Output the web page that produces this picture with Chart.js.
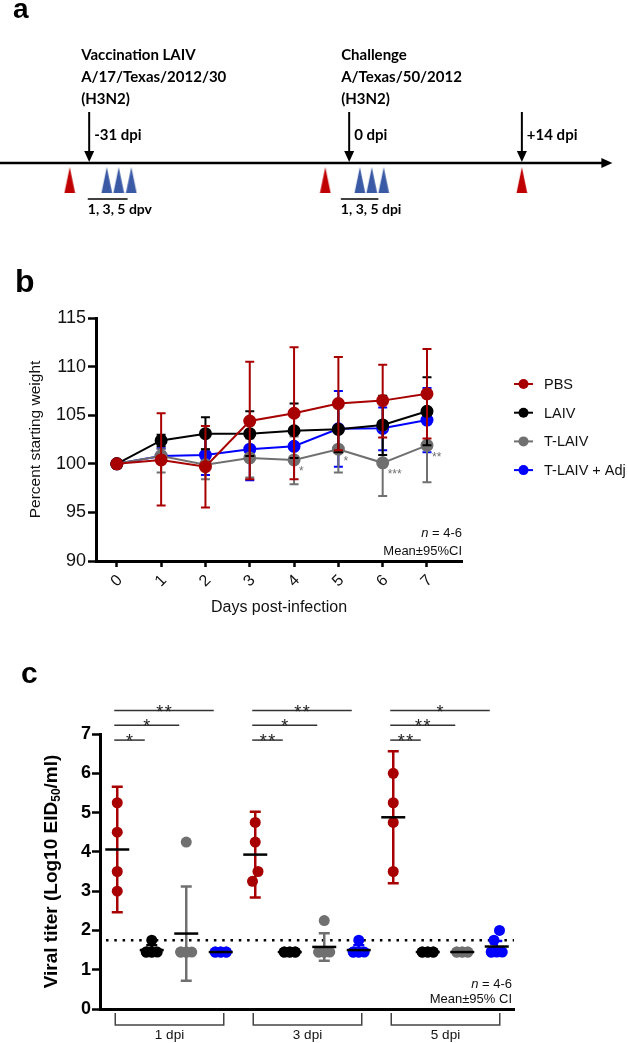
<!DOCTYPE html>
<html><head><meta charset="utf-8">
<script src="https://cdn.jsdelivr.net/npm/chart.js@4.4.0/dist/chart.umd.min.js"></script>
<style>
html,body{margin:0;padding:0;background:#fff;}
body{width:628px;height:1043px;position:relative;overflow:hidden;}
canvas{position:absolute;left:0;}
</style></head><body>
<canvas id="ca" width="628" height="232" style="top:0px"></canvas>
<canvas id="cb" width="628" height="370" style="top:260px"></canvas>
<canvas id="cc" width="628" height="403" style="top:640px"></canvas>
<script>
// ---------- Panel a: timeline (schematic units 0..100) ----------
const timelineEnd = 96.4;
const samplingPos = [11.1, 51.8, 83.1];
const vaccSwabPos = [17.0, 18.9, 20.9];
const challSwabPos = [57.3, 59.2, 61.1];
const eventPos = [14.2, 55.6, 83.1];
const eventLabels = ['-31 dpi', '0 dpi', '+14 dpi'];
const eventTitles = [['Vaccination LAIV', 'A/17/Texas/2012/30', '(H3N2)'], ['Challenge', 'A/Texas/50/2012', '(H3N2)'], []];
const swabLabels = ['1, 3, 5 dpv', '1, 3, 5 dpi'];
const markY = -0.62;

// ---------- Panel b: weight ----------
const days = [0, 1, 2, 3, 4, 5, 6, 7];
const seriesNames = ['PBS', 'LAIV', 'T-LAIV', 'T-LAIV + Adj'];
const seriesColors = ['#a80000', '#000000', '#707070', '#0000ff'];
const pbsWeight   = [100, 100.4, 99.7, 104.4, 105.2, 106.2, 106.5, 107.2];
const pbsWeightHi = [100, 105.2, 103.9, 110.5, 112.0, 111.0, 110.2, 111.8];
const pbsWeightLo = [100, 95.7, 95.5, 98.4, 98.4, 101.4, 102.7, 102.6];
const laivWeight   = [100, 102.4, 103.1, 103.1, 103.4, 103.55, 104.0, 105.4];
const laivWeightHi = [100, 103.0, 104.8, 105.4, 106.2, 105.9, 107.0, 108.9];
const laivWeightLo = [100, 101.8, 101.5, 100.8, 100.6, 101.2, 100.9, 101.9];
const tlaivWeight   = [100, 100.8, 99.9, 100.6, 100.4, 101.5, 100.1, 101.9];
const tlaivWeightHi = [100, 101.5, 101.5, 102.6, 102.8, 103.9, 103.5, 105.7];
const tlaivWeightLo = [100, 99.1, 98.4, 98.6, 97.9, 99.1, 96.7, 98.1];
const adjWeight   = [100, 100.8, 100.9, 101.5, 101.8, 103.6, 103.65, 104.5];
const adjWeightHi = [100, 101.6, 102.9, 104.7, 103.2, 107.5, 105.8, 107.8];
const adjWeightLo = [100, 100.05, 98.85, 98.3, 100.4, 99.7, 101.4, 101.2];
const weightTicks = [90, 95, 100, 105, 110, 115];
const sigDays = [4, 5, 6, 7];
const sigMarks = ['*', '*', '***', '**'];

// ---------- Panel c: viral titer ----------
const dpiGroups = ['1 dpi', '3 dpi', '5 dpi'];
const pbsTiter   = [[5.25, 4.5, 3.5, 3.0], [4.75, 4.25, 3.5, 3.25], [6.0, 5.25, 4.75, 3.5]];
const laivTiter  = [[1.75, 1.45, 1.45, 1.45, 1.45, 1.45], [1.45, 1.45, 1.45, 1.45, 1.45, 1.45], [1.45, 1.45, 1.45, 1.45, 1.45, 1.45]];
const tlaivTiter = [[4.25, 1.45, 1.45, 1.45, 1.45, 1.45], [2.25, 1.45, 1.45, 1.45, 1.45, 1.45], [1.45, 1.45, 1.45, 1.45, 1.45, 1.45]];
const adjTiter   = [[1.45, 1.45, 1.45, 1.45, 1.45, 1.45], [1.75, 1.45, 1.45, 1.45, 1.45, 1.45], [2.0, 1.75, 1.45, 1.45, 1.45, 1.45]];
const pbsTiterMean = [4.06, 3.93, 4.88], pbsTiterLo = [2.46, 2.84, 3.2], pbsTiterHi = [5.66, 5.02, 6.56];
const laivTiterMean = [1.5, 1.45, 1.45], laivTiterLo = [1.38, 1.45, 1.45], laivTiterHi = [1.62, 1.45, 1.45];
const tlaivTiterMean = [1.92, 1.58, 1.45], tlaivTiterLo = [0.72, 1.23, 1.45], tlaivTiterHi = [3.12, 1.93, 1.45];
const adjTiterMean = [1.45, 1.5, 1.59], adjTiterLo = [1.45, 1.4, 1.45], adjTiterHi = [1.45, 1.62, 1.73];
const detectionLimit = 1.75;
const titerTicks = [0, 1, 2, 3, 4, 5, 6, 7];
// significance bars: [fromSeries, toSeries, label] per group, top to bottom
const sigBars = [
  [[0, 3, '**'], [0, 2, '*'], [0, 1, '*']],
  [[0, 3, '**'], [0, 2, '*'], [0, 1, '**']],
  [[0, 3, '*'], [0, 2, '**'], [0, 1, '**']]
];

const FONT = "'Liberation Sans', Arial, Helvetica, sans-serif";
Chart.defaults.font.family = FONT;
Chart.defaults.color = '#000';
Chart.defaults.animation = false;
Chart.defaults.responsive = false;
Chart.defaults.events = [];
Chart.defaults.layout.autoPadding = false;
Chart.defaults.plugins.legend.display = false;
Chart.defaults.plugins.tooltip.enabled = false;

// ================= Panel a =================
function triImg(color) {
  const c = document.createElement('canvas'); c.width = 12; c.height = 29;
  const g = c.getContext('2d'); g.fillStyle = color;
  g.beginPath(); g.moveTo(6, 0); g.lineTo(12, 29); g.lineTo(0, 29); g.closePath(); g.fill();
  return c;
}
const timelinePlugin = {
  id: 'timeline',
  afterDraw(chart) {
    const { ctx, scales: { x, y } } = chart;
    const y0 = y.getPixelForValue(0);
    ctx.save();
    ctx.fillStyle = '#000'; ctx.strokeStyle = '#000';
    ctx.font = 'bold 28px ' + FONT; ctx.textAlign = 'left'; ctx.textBaseline = 'alphabetic';
    ctx.fillText('a', 13, 18);
    const xe = x.getPixelForValue(timelineEnd);
    ctx.beginPath(); ctx.moveTo(xe + 7, y0); ctx.lineTo(xe - 4, y0 - 5); ctx.lineTo(xe - 4, y0 + 5); ctx.closePath(); ctx.fill();
    ctx.font = 'bold 15px Lato'; ctx.textBaseline = 'middle';
    eventPos.forEach((p, i) => {
      const px = x.getPixelForValue(p);
      ctx.lineWidth = 2;
      ctx.beginPath(); ctx.moveTo(px, y0 - 51); ctx.lineTo(px, y0 - 8); ctx.stroke();
      ctx.beginPath(); ctx.moveTo(px, y0 - 1); ctx.lineTo(px - 5, y0 - 12); ctx.lineTo(px + 5, y0 - 12); ctx.closePath(); ctx.fill();
      ctx.fillText(eventLabels[i], px + 5, y0 - 28);
      eventTitles[i].forEach((t, k) => ctx.fillText(t, px - 8, y0 - 108 + k * 22));
    });
    ctx.font = 'bold 14px Lato';
    [vaccSwabPos, challSwabPos].forEach((arr, i) => {
      const a = x.getPixelForValue(arr[0]) - 19;
      const w = ctx.measureText(swabLabels[i]).width;
      ctx.lineWidth = 1.3;
      ctx.beginPath(); ctx.moveTo(a, y0 + 36); ctx.lineTo(a + w * 0.62, y0 + 36); ctx.stroke();
      ctx.fillText(swabLabels[i], a, y0 + 46);
    });
    ctx.restore();
  }
};
new Chart(document.getElementById('ca'), {
  type: 'scatter',
  data: { datasets: [
    { data: samplingPos.map(v => ({ x: v, y: markY })), pointStyle: triImg('#c00000'), pointRadius: 10 },
    { data: vaccSwabPos.concat(challSwabPos).map(v => ({ x: v, y: markY })), pointStyle: triImg('#3a5aa6'), pointRadius: 10 },
    { type: 'line', data: [{ x: 0, y: 0 }, { x: timelineEnd, y: 0 }], borderColor: '#000', borderWidth: 2.5, pointRadius: 0 }
  ] },
  options: {
    layout: { padding: { top: 133, bottom: 39, left: 0, right: 0 } },
    scales: { x: { type: 'linear', display: false, min: 0, max: 100 }, y: { display: false, min: -1, max: 1 } }
  },
  plugins: [timelinePlugin]
});

// ================= Panel b =================
const weightSets = [
  [pbsWeight, pbsWeightLo, pbsWeightHi],
  [laivWeight, laivWeightLo, laivWeightHi],
  [tlaivWeight, tlaivWeightLo, tlaivWeightHi],
  [adjWeight, adjWeightLo, adjWeightHi]
];
const weightPlugin = {
  id: 'weightExtras',
  beforeDatasetDraw(chart, args) {
    const ds = chart.data.datasets[args.index];
    const { ctx, scales: { x, y } } = chart;
    ctx.save(); ctx.strokeStyle = ds.borderColor; ctx.lineWidth = 2;
    days.forEach((d, i) => {
      const lo = ds.errLo[i], hi = ds.errHi[i];
      if (hi === lo) return;
      const px = x.getPixelForValue(d), yl = y.getPixelForValue(lo), yh = y.getPixelForValue(hi);
      ctx.beginPath(); ctx.moveTo(px, yl); ctx.lineTo(px, yh);
      ctx.moveTo(px - 4.5, yl); ctx.lineTo(px + 4.5, yl);
      ctx.moveTo(px - 4.5, yh); ctx.lineTo(px + 4.5, yh); ctx.stroke();
    });
    ctx.restore();
  },
  afterDraw(chart) {
    const { ctx, chartArea: ca, scales: { x, y } } = chart;
    ctx.save();
    ctx.fillStyle = '#000';
    ctx.font = 'bold 32px ' + FONT; ctx.textAlign = 'left'; ctx.textBaseline = 'alphabetic';
    ctx.fillText('b', 15, 32);
    ctx.fillStyle = '#707070'; ctx.font = '12px ' + FONT; ctx.textBaseline = 'middle';
    sigDays.forEach((d, k) => {
      const i = days.indexOf(d);
      ctx.fillText(sigMarks[k], x.getPixelForValue(d) + 5, y.getPixelForValue(tlaivWeight[i]) + 12);
    });
    ctx.fillStyle = '#111'; ctx.font = '16px ' + FONT; ctx.textAlign = 'center';
    ctx.fillText('Days post-infection', (ca.left + ca.right) / 2, 348);
    ctx.save(); ctx.translate(36, (ca.top + ca.bottom) / 2); ctx.rotate(-Math.PI / 2);
    ctx.font = '15.5px ' + FONT; ctx.fillText('Percent starting weight', 0, 0); ctx.restore();
    ctx.textAlign = 'right'; ctx.font = '13px ' + FONT;
    const nW = ctx.measureText(' = 4-6').width;
    ctx.fillText(' = 4-6', ca.right, 273);
    ctx.font = 'italic 13px ' + FONT; ctx.fillText('n', ca.right - nW, 273);
    ctx.font = '13px ' + FONT; ctx.fillText('Mean\u00B195%CI', ca.right, 291);
    ctx.textAlign = 'left'; ctx.font = '14.5px ' + FONT;
    chart.data.datasets.forEach((ds, i) => {
      const ly = 124 + i * 28.7;
      ctx.strokeStyle = ds.borderColor; ctx.fillStyle = ds.borderColor; ctx.lineWidth = 2;
      ctx.beginPath(); ctx.moveTo(514, ly); ctx.lineTo(533, ly); ctx.stroke();
      ctx.beginPath(); ctx.arc(523.5, ly, 5, 0, Math.PI * 2); ctx.fill();
      ctx.fillStyle = '#111'; ctx.fillText(ds.label, 544, ly + 1);
    });
    ctx.restore();
  }
};
new Chart(document.getElementById('cb'), {
  type: 'line',
  data: { datasets: weightSets.map((s, k) => ({
    label: seriesNames[k],
    data: days.map((d, i) => ({ x: d, y: s[0][i] })),
    errLo: s[1], errHi: s[2],
    borderColor: seriesColors[k], backgroundColor: seriesColors[k],
    pointBackgroundColor: seriesColors[k], pointBorderColor: seriesColors[k],
    borderWidth: 2, pointRadius: 5.5, tension: 0
  })) },
  options: {
    layout: { padding: { top: 58, right: 166, left: 0, bottom: 0 } },
    scales: {
      x: { type: 'linear', min: -0.47, max: 7.79,
        afterBuildTicks: s => { s.ticks = days.map(v => ({ value: v })); },
        afterFit: s => { s.height = 69; },
        grid: { drawOnChartArea: false, color: '#000', tickLength: 6, tickWidth: 2.5 },
        border: { color: '#000', width: 3 },
        ticks: { autoSkip: false, minRotation: 45, maxRotation: 45, padding: 4, labelOffset: 3, font: { size: 16 }, color: '#111', callback: v => String(v) } },
      y: { type: 'linear', min: 90, max: 115,
        afterBuildTicks: s => { s.ticks = weightTicks.map(v => ({ value: v })); },
        afterFit: s => { s.width = 96; },
        grid: { drawOnChartArea: false, color: '#000', tickLength: 8, tickWidth: 2.5 },
        border: { color: '#000', width: 3 },
        ticks: { padding: 2, font: { size: 18 }, color: '#111' } }
    }
  },
  plugins: [weightPlugin]
});

// ================= Panel c =================
const titerSets = [
  [pbsTiter, pbsTiterMean, pbsTiterLo, pbsTiterHi],
  [laivTiter, laivTiterMean, laivTiterLo, laivTiterHi],
  [tlaivTiter, tlaivTiterMean, tlaivTiterLo, tlaivTiterHi],
  [adjTiter, adjTiterMean, adjTiterLo, adjTiterHi]
];
const C_PX_Y = 39.3, C_PX_X = 34.5, C_R = 5.5;
function spreadOffsets(vals) {
  const idx = vals.map((v, i) => i).sort((a, b) => vals[a] - vals[b]);
  const off = vals.map(() => 0);
  const clusters = []; let cur = [idx[0]];
  for (let k = 1; k < idx.length; k++) {
    if ((vals[idx[k]] - vals[idx[k - 1]]) * C_PX_Y < 2 * C_R * 0.95) cur.push(idx[k]);
    else { clusters.push(cur); cur = [idx[k]]; }
  }
  clusters.push(cur);
  clusters.forEach(c => {
    if (c.length < 2) return;
    const cols = Math.min(c.length, 3);
    c.forEach((i, k) => { off[i] = ((k % cols) - (cols - 1) / 2) * C_R / C_PX_X; });
  });
  return off;
}
const titerPlugin = {
  id: 'titerExtras',
  beforeDatasetsDraw(chart) {
    const { ctx, chartArea: ca, scales: { x, y } } = chart;
    ctx.save();
    ctx.strokeStyle = '#000'; ctx.lineWidth = 2.5; ctx.setLineDash([2.5, 5.8]);
    const yl = y.getPixelForValue(detectionLimit);
    ctx.beginPath(); ctx.moveTo(ca.left + 6, yl); ctx.lineTo(ca.right, yl); ctx.stroke();
    ctx.setLineDash([]);
    titerSets.forEach((s, si) => {
      ctx.strokeStyle = seriesColors[si]; ctx.lineWidth = 2.5;
      dpiGroups.forEach((g, gi) => {
        const lo = s[2][gi], hi = s[3][gi];
        if (lo === hi) return;
        const px = x.getPixelForValue(gi * 4 + si), a = y.getPixelForValue(lo), b = y.getPixelForValue(hi);
        ctx.beginPath(); ctx.moveTo(px, a); ctx.lineTo(px, b);
        ctx.moveTo(px - 5.5, a); ctx.lineTo(px + 5.5, a); ctx.moveTo(px - 5.5, b); ctx.lineTo(px + 5.5, b); ctx.stroke();
      });
    });
    ctx.restore();
  },
  afterDatasetsDraw(chart) {
    const { ctx, scales: { x, y } } = chart;
    ctx.save();
    ctx.strokeStyle = '#000'; ctx.lineWidth = 2.5;
    titerSets.forEach((s, si) => dpiGroups.forEach((g, gi) => {
      const px = x.getPixelForValue(gi * 4 + si), py = y.getPixelForValue(s[1][gi]);
      ctx.beginPath(); ctx.moveTo(px - 12, py); ctx.lineTo(px + 12, py); ctx.stroke();
    }));
    ctx.restore();
  },
  afterDraw(chart) {
    const { ctx, chartArea: ca, scales: { x, y } } = chart;
    ctx.save();
    ctx.fillStyle = '#000';
    ctx.font = 'bold 30px ' + FONT; ctx.textAlign = 'left'; ctx.textBaseline = 'alphabetic';
    ctx.fillText('c', 21, 43);
    ctx.strokeStyle = '#333'; ctx.lineWidth = 1.5; ctx.fillStyle = '#222';
    ctx.font = '18px ' + FONT; ctx.textAlign = 'center';
    sigBars.forEach((bars, gi) => bars.forEach((b, lvl) => {
      const a = x.getPixelForValue(gi * 4 + b[0]) - 3, e = x.getPixelForValue(gi * 4 + b[1]) - 7;
      const ly = ca.top - 23.5 + lvl * 14.8;
      ctx.beginPath(); ctx.moveTo(a, ly); ctx.lineTo(e, ly); ctx.stroke();
      ctx.fillText(b[2].split('').join('\u200A'), (a + e) / 2, ly + 7);
    }));
    ctx.strokeStyle = '#444'; ctx.lineWidth = 1.5; ctx.font = '13.5px ' + FONT; ctx.fillStyle = '#111';
    ctx.textBaseline = 'middle';
    dpiGroups.forEach((g, gi) => {
      const a = x.getPixelForValue(gi * 4) - 2, e = x.getPixelForValue(gi * 4 + 3) + 3;
      const t = ca.bottom + 4, bt = ca.bottom + 16;
      ctx.beginPath(); ctx.moveTo(a, t); ctx.lineTo(a, bt); ctx.lineTo(e, bt); ctx.lineTo(e, t); ctx.stroke();
      ctx.fillText(g, (a + e) / 2, ca.bottom + 26);
    });
    ctx.textAlign = 'right'; ctx.font = '13px ' + FONT; ctx.fillStyle = '#111';
    const nW = ctx.measureText(' = 4-6').width;
    ctx.fillText(' = 4-6', ca.right - 2, ca.bottom - 25);
    ctx.font = 'italic 13px ' + FONT; ctx.fillText('n', ca.right - 2 - nW, ca.bottom - 25);
    ctx.font = '13px ' + FONT; ctx.fillText('Mean\u00B195% CI', ca.right - 2, ca.bottom - 10);
    ctx.save(); ctx.translate(52, (ca.top + ca.bottom) / 2); ctx.rotate(-Math.PI / 2);
    const big = 'bold 19px ' + FONT, small = 'bold 12px ' + FONT;
    const parts = [['Viral titer (Log10 EID', big, 0], ['50', small, 5], ['/ml)', big, 0]];
    let tot = 0; parts.forEach(p => { ctx.font = p[1]; tot += ctx.measureText(p[0]).width; });
    let cx = -tot / 2; ctx.textAlign = 'left'; ctx.fillStyle = '#000';
    parts.forEach(p => { ctx.font = p[1]; ctx.fillText(p[0], cx, p[2]); cx += ctx.measureText(p[0]).width; });
    ctx.restore();
    ctx.restore();
  }
};
new Chart(document.getElementById('cc'), {
  type: 'scatter',
  data: { datasets: titerSets.map((s, si) => ({
    label: seriesNames[si],
    data: s[0].flatMap((vals, gi) => { const off = spreadOffsets(vals); return vals.map((v, k) => ({ x: gi * 4 + si + off[k], y: v })); }),
    backgroundColor: seriesColors[si], borderColor: seriesColors[si], pointRadius: C_R, borderWidth: 0
  })) },
  options: {
    layout: { padding: { top: 94, right: 114, left: 0, bottom: 0 } },
    scales: {
      x: { type: 'linear', min: -0.5, max: 11.5,
        afterFit: s => { s.height = 34; },
        ticks: { display: false }, grid: { display: false },
        border: { color: '#000', width: 3 } },
      y: { type: 'linear', min: 0, max: 7,
        afterBuildTicks: s => { s.ticks = titerTicks.map(v => ({ value: v })); },
        afterFit: s => { s.width = 100; },
        grid: { drawOnChartArea: false, color: '#000', tickLength: 8, tickWidth: 2.5 },
        border: { color: '#000', width: 3 },
        ticks: { padding: 1, font: { size: 18, weight: 'bold' }, color: '#000' } }
    }
  },
  plugins: [titerPlugin]
});
</script>
</body></html>
